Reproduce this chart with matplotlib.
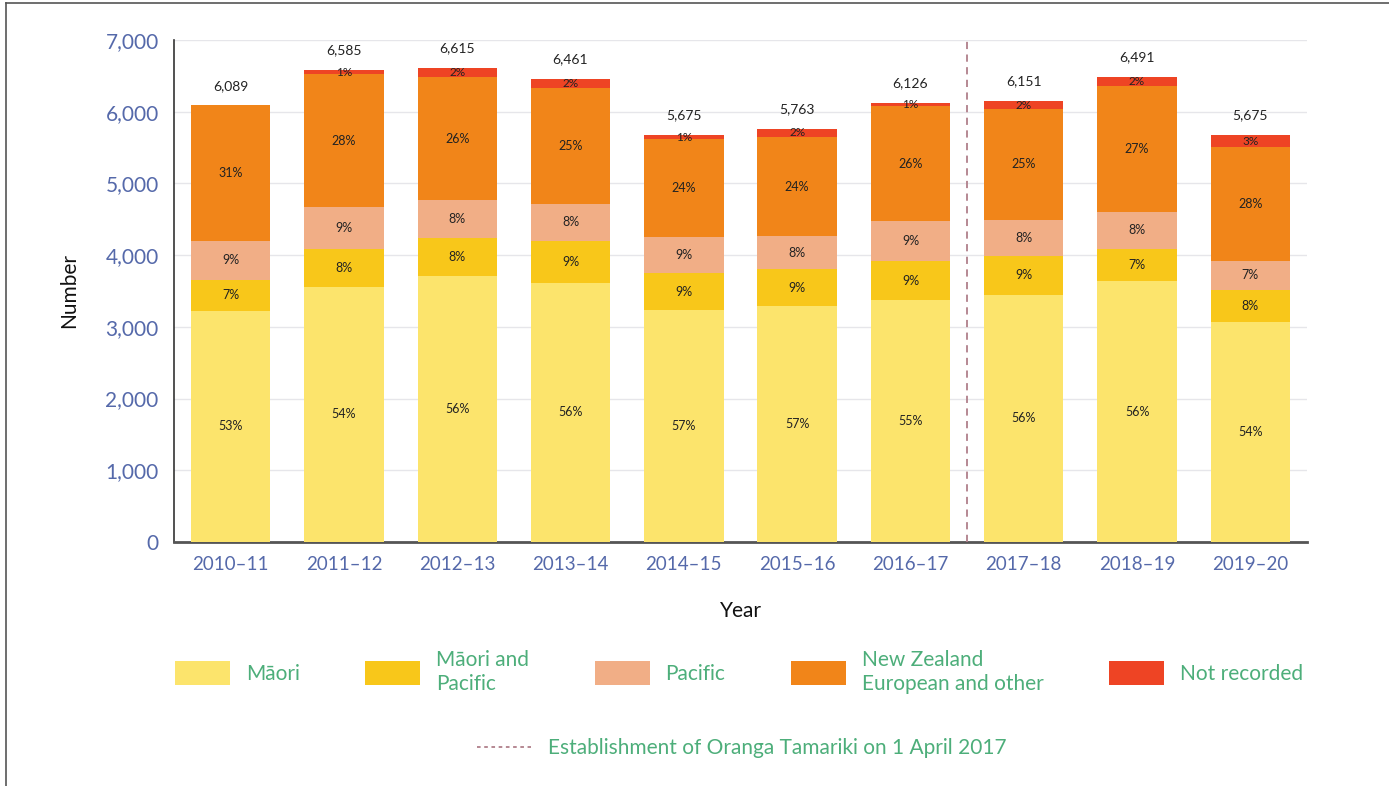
import matplotlib
matplotlib.use("Agg")
import matplotlib.pyplot as plt
from matplotlib.patches import Patch
from matplotlib.lines import Line2D
import numpy as np

plt.rcParams['font.family'] = ['Lato', 'DejaVu Sans']

years = ["2010–11", "2011–12", "2012–13", "2013–14", "2014–15",
         "2015–16", "2016–17", "2017–18", "2018–19", "2019–20"]
maori = [3227, 3556, 3704, 3618, 3235, 3285, 3369, 3450, 3635, 3065]
maori_pacific = [426, 527, 529, 581, 511, 519, 551, 545, 454, 454]
pacific = [548, 593, 529, 517, 511, 461, 551, 500, 519, 397]
nz_european = [1888, 1843, 1721, 1615, 1361, 1383, 1603, 1538, 1753, 1589]
not_recorded = [0, 66, 132, 130, 57, 115, 52, 118, 130, 170]

series_names = ["Māori", "Māori and\nPacific", "Pacific",
                "New Zealand\nEuropean and other", "Not recorded"]
colors = ["#FCE46C", "#F8C71A", "#F1AE86", "#F18519", "#EE4424"]

tick_color = "#5569AA"
legend_color = "#4DAE7A"

fig = plt.figure(figsize=(13.89, 7.86), dpi=100)
ax = fig.add_axes([174/1389, 1-542/786, (1307-174)/1389, (542-40)/786])

series = [maori, maori_pacific, pacific, nz_european, not_recorded]
x = np.arange(len(years))
totals = np.sum(np.array(series), axis=0)
bottom = np.zeros(len(years))
for vals, col in zip(series, colors):
    vals = np.array(vals, dtype=float)
    ax.bar(x, vals, width=0.7, bottom=bottom, color=col, zorder=3, linewidth=0)
    for xi, v, b, t in zip(x, vals, bottom, totals):
        if v > 0:
            pct = int(round(v / t * 100))
            fs = 9 if v > 200 else 8.5
            ax.text(xi, b + v / 2, f"{pct}%", ha='center', va='center',
                    fontsize=fs, color='#222222', zorder=4)
    bottom += vals

for xi, t in zip(x, totals):
    ax.annotate(f"{t:,}", (xi, t), xytext=(0, 14), textcoords='offset points',
                ha='center', va='center', fontsize=10, color='#222222')

ax.axvline(6.5, color='#B07F8A', linestyle=(0, (4, 3)), linewidth=1.3, zorder=5)

ax.set_xlim(-0.5, 9.5)
ax.set_ylim(0, 7000)
ax.set_yticks(np.arange(0, 7001, 1000))
ax.set_yticklabels([f"{v:,}" for v in range(0, 7001, 1000)])
ax.set_xticks(x)
ax.set_xticklabels(years)
ax.grid(axis='y', color='#E6E6EA', linewidth=1, zorder=0)
ax.set_axisbelow(True)
for s in ['top', 'right']:
    ax.spines[s].set_visible(False)
ax.spines['left'].set_color('#333333')
ax.spines['bottom'].set_color('#555555')
ax.spines['left'].set_linewidth(1.2)
ax.spines['bottom'].set_linewidth(2)
ax.tick_params(axis='y', length=0, pad=11, labelsize=15, labelcolor=tick_color)
ax.tick_params(axis='x', length=0, pad=10, labelsize=13.5, labelcolor=tick_color)
ax.set_ylabel("Number", fontsize=15, color='#111111', labelpad=19)
ax.set_xlabel("Year", fontsize=15, color='#111111', labelpad=20)

handles = [Patch(facecolor=c, edgecolor='none') for c in colors]
leg1 = fig.legend(handles, series_names, loc='center', bbox_to_anchor=(0.532, 1-672/786),
                  ncol=5, frameon=False, fontsize=15, labelcolor=legend_color,
                  handlelength=2.65, handleheight=1.35, handletextpad=0.75,
                  columnspacing=3.15)
leg2 = fig.legend([Line2D([0], [0], color='#B07F8A', linestyle=(0, (2, 2)), linewidth=1.3)],
                  ["Establishment of Oranga Tamariki on 1 April 2017"],
                  loc='center', bbox_to_anchor=(0.534, 1-748/786), frameon=False,
                  fontsize=15, labelcolor=legend_color, handlelength=2.6, handletextpad=0.8)

fig.add_artist(Line2D([6/1389, 6/1389], [0, 1-3/786], transform=fig.transFigure,
                      color='#555555', linewidth=1.2))
fig.add_artist(Line2D([6/1389, 1], [1-3/786, 1-3/786], transform=fig.transFigure,
                      color='#555555', linewidth=1.2))

fig.savefig("out.png", dpi=100)
